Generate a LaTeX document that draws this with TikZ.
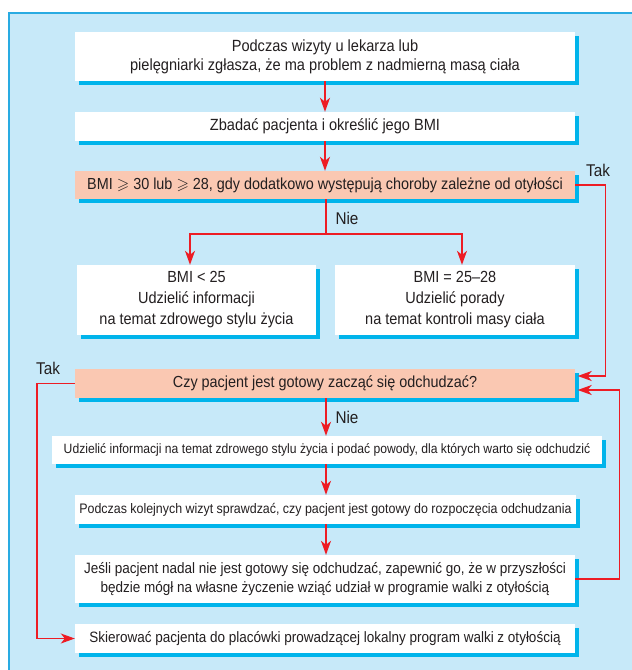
\documentclass[tikz,border=0pt]{standalone}
\usepackage{amssymb}
\usepackage{fontspec}
\setmainfont[FakeStretch=0.9]{Liberation Sans}
\usetikzlibrary{arrows.meta,shadows}
\definecolor{panelblue}{HTML}{C7E9F9}
\definecolor{edgeblue}{HTML}{29ABE2}
\definecolor{shadowblue}{HTML}{00B4EB}
\definecolor{salmon}{HTML}{FAC8B2}
\definecolor{flowred}{HTML}{ED1C24}
\definecolor{inkgray}{HTML}{231F20}
\tikzset{
  box/.style={fill=white,inner sep=0pt,align=center,text=inkgray,font=\fontsize{15}{19}\selectfont,
    drop shadow={shadow xshift=3.5pt,shadow yshift=-3.5pt,fill=shadowblue,opacity=1}},
  askbox/.style={box,fill=salmon},
  flow/.style={flowred,line width=1.4pt},
  arr/.style={flow,-{Stealth[length=14pt,width=10pt,inset=4pt]}},
  lbl/.style={text=inkgray,font=\fontsize{17}{19}\selectfont}
}
\begin{document}
\begin{tikzpicture}[x=1pt,y=-1pt]
  \useasboundingbox (0,0) rectangle (632,670);
  \fill[panelblue] (9,13) rectangle (640,680);
  \draw[edgeblue,line width=1.2pt] (640,13) -- (9,13) -- (9,680);

  \node[box,minimum width=500pt,minimum height=49pt,font=\fontsize{16.2}{19}\selectfont] (visit) at (325,56.5)
    {Podczas wizyty u lekarza lub\\pielęgniarki zgłasza, że ma problem z nadmierną masą ciała};
  \node[box,minimum width=500pt,minimum height=29pt,font=\fontsize{16.2}{19}\selectfont] (exam) at (325,126.5)
    {Zbadać pacjenta i określić jego BMI};
  \node[askbox,minimum width=500pt,minimum height=28pt,font=\fontsize{16}{19}\selectfont] (bmi) at (325,185)
    {BMI $\geqslant$ 30 lub $\geqslant$ 28, gdy dodatkowo występują choroby zależne od otyłości};
  \node[box,minimum width=239pt,minimum height=70pt,font=\fontsize{16.1}{21}\selectfont] (low) at (196.5,300)
    {BMI < 25\\Udzielić informacji\\na temat zdrowego stylu życia};
  \node[box,minimum width=240pt,minimum height=70pt,font=\fontsize{16.1}{21}\selectfont] (mid) at (455,300)
    {BMI = 25–28\\Udzielić porady\\na temat kontroli masy ciała};
  \node[askbox,minimum width=500pt,minimum height=29pt,font=\fontsize{16}{19}\selectfont] (ready) at (325,383.5)
    {Czy pacjent jest gotowy zacząć się odchudzać?};
  \node[box,minimum width=550pt,minimum height=28pt,font=\fontsize{13.5}{16}\selectfont] (inform) at (327,450)
    {Udzielić informacji na temat zdrowego stylu życia i podać powody, dla których warto się odchudzić};
  \node[box,minimum width=501pt,minimum height=29pt,font=\fontsize{13.8}{16}\selectfont] (check) at (325.5,509.5)
    {Podczas kolejnych wizyt sprawdzać, czy pacjent jest gotowy do rozpoczęcia odchudzania};
  \node[box,minimum width=500pt,minimum height=48pt] (later) at (325,579)
    {Jeśli pacjent nadal nie jest gotowy się odchudzać, zapewnić go, że w przyszłości\\będzie mógł na własne życzenie wziąć udział w programie walki z otyłością};
  \node[box,minimum width=500pt,minimum height=29pt] (refer) at (325,638.5)
    {Skierować pacjenta do placówki prowadzącej lokalny program walki z otyłością};

  \coordinate (split) at (326,234);
  \coordinate (splitL) at (190,234);
  \coordinate (splitR) at (462,234);
  \draw[arr] (visit) -- (exam);
  \draw[arr] (exam) -- (bmi);
  \draw[flow] (bmi.south -| split) -- (split);
  \draw[arr] (split) -| (low.north -| splitL);
  \draw[arr] (split) -| (mid.north -| splitR);
  \draw[arr] (bmi.east) -- ++(30,0) |- ([xshift=2.5pt,yshift=7.5pt]ready.east);
  \draw[arr] (later.east) -- ++(44,0) |- ([xshift=2.5pt,yshift=-6.5pt]ready.east);
  \draw[arr] (ready.south -| split) -- (inform.north -| split);
  \draw[arr] (inform.south -| split) -- (check.north -| split);
  \draw[arr] (check.south -| split) -- (later.north -| split);
  \draw[arr] (ready.west) -- ++(-38,0) |- (refer.west);

  \node[lbl] (yes1) at (598,170) {Tak};
  \node[lbl] (no1) at (347,218) {Nie};
  \node[lbl] (yes2) at (48,368) {Tak};
  \node[lbl] (no2) at (347,417) {Nie};
\end{tikzpicture}
\end{document}
